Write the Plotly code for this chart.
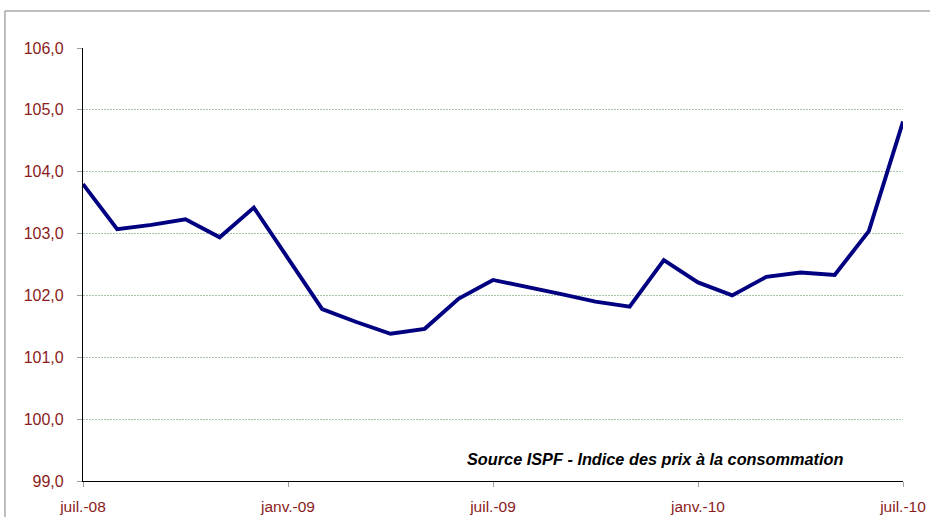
import plotly.graph_objects as go

months = ["juil.-08", "août-08", "sept.-08", "oct.-08", "nov.-08", "déc.-08",
          "janv.-09", "févr.-09", "mars-09", "avr.-09", "mai-09", "juin-09",
          "juil.-09", "août-09", "sept.-09", "oct.-09", "nov.-09", "déc.-09",
          "janv.-10", "févr.-10", "mars-10", "avr.-10", "mai-10", "juin-10",
          "juil.-10"]
index_values = [103.80, 103.07, 103.14, 103.23, 102.94, 103.42,
                102.60, 101.78, 101.57, 101.38, 101.46, 101.95,
                102.25, 102.14, 102.02, 101.90, 101.82, 102.57,
                102.21, 102.00, 102.30, 102.37, 102.33, 103.04,
                104.81]
x_tick_labels = ["juil.-08", "janv.-09", "juil.-09", "janv.-10", "juil.-10"]
y_ticks = [99, 100, 101, 102, 103, 104, 105, 106]

x_pos = list(range(len(months)))
x_tick_pos = [months.index(t) for t in x_tick_labels]

label_color = "#8B1C1C"

fig = go.Figure()
fig.add_trace(go.Scatter(
    x=x_pos, y=index_values, mode="lines",
    line=dict(color="#000080", width=3.9),
    text=months, hoverinfo="text+y",
))

fig.update_layout(
    width=930, height=517,
    margin=dict(l=83, r=27, t=48, b=36),
    paper_bgcolor="white", plot_bgcolor="white",
    separators=", ",
    showlegend=False,
    font=dict(family="Liberation Sans, Arial, sans-serif", size=16, color=label_color),
    xaxis=dict(
        range=[0, 24], tickvals=x_tick_pos, ticktext=x_tick_labels,
        showgrid=False, zeroline=False, automargin=False,
        showline=True, linecolor="black", linewidth=1.2,
        ticks="outside", ticklen=5, tickcolor="#a0a0a0", tickwidth=1,
        tickfont=dict(size=15.5, color=label_color),
        ticklabelstandoff=6,
    ),
    yaxis=dict(
        range=[99, 106], tickvals=y_ticks, tickformat=".1f",
        showgrid=True, gridcolor="#a9c4a9", gridwidth=1, griddash="2px,1px",
        zeroline=False, automargin=False,
        showline=True, linecolor="black", linewidth=1.2,
        ticks="outside", ticklen=5, tickcolor="#a0a0a0", tickwidth=1,
        tickfont=dict(size=16, color=label_color),
        ticklabelstandoff=10,
    ),
    shapes=[
        dict(type="line", xref="paper", yref="paper",
             x0=-0.0952, x1=1.2, y0=1.0855, y1=1.0855,
             line=dict(color="#a8a8a8", width=1.5)),
        dict(type="line", xref="paper", yref="paper",
             x0=-0.0952, x1=-0.0952, y0=-0.2, y1=1.0855,
             line=dict(color="#a8a8a8", width=1.5)),
    ],
    annotations=[
        dict(text="<b><i>Source ISPF - Indice des prix à la consommation</i></b>",
             xref="paper", yref="paper",
             x=(845 - 83) / 820, y=(481 - 459) / 433,
             xanchor="right", yanchor="middle", showarrow=False,
             font=dict(family="Liberation Sans, Arial, sans-serif", size=16.3, color="black")),
    ],
)

fig.write_html("out.html", config={"displayModeBar": False},
               post_script="document.body.style.margin='0';document.body.style.overflow='hidden';")
